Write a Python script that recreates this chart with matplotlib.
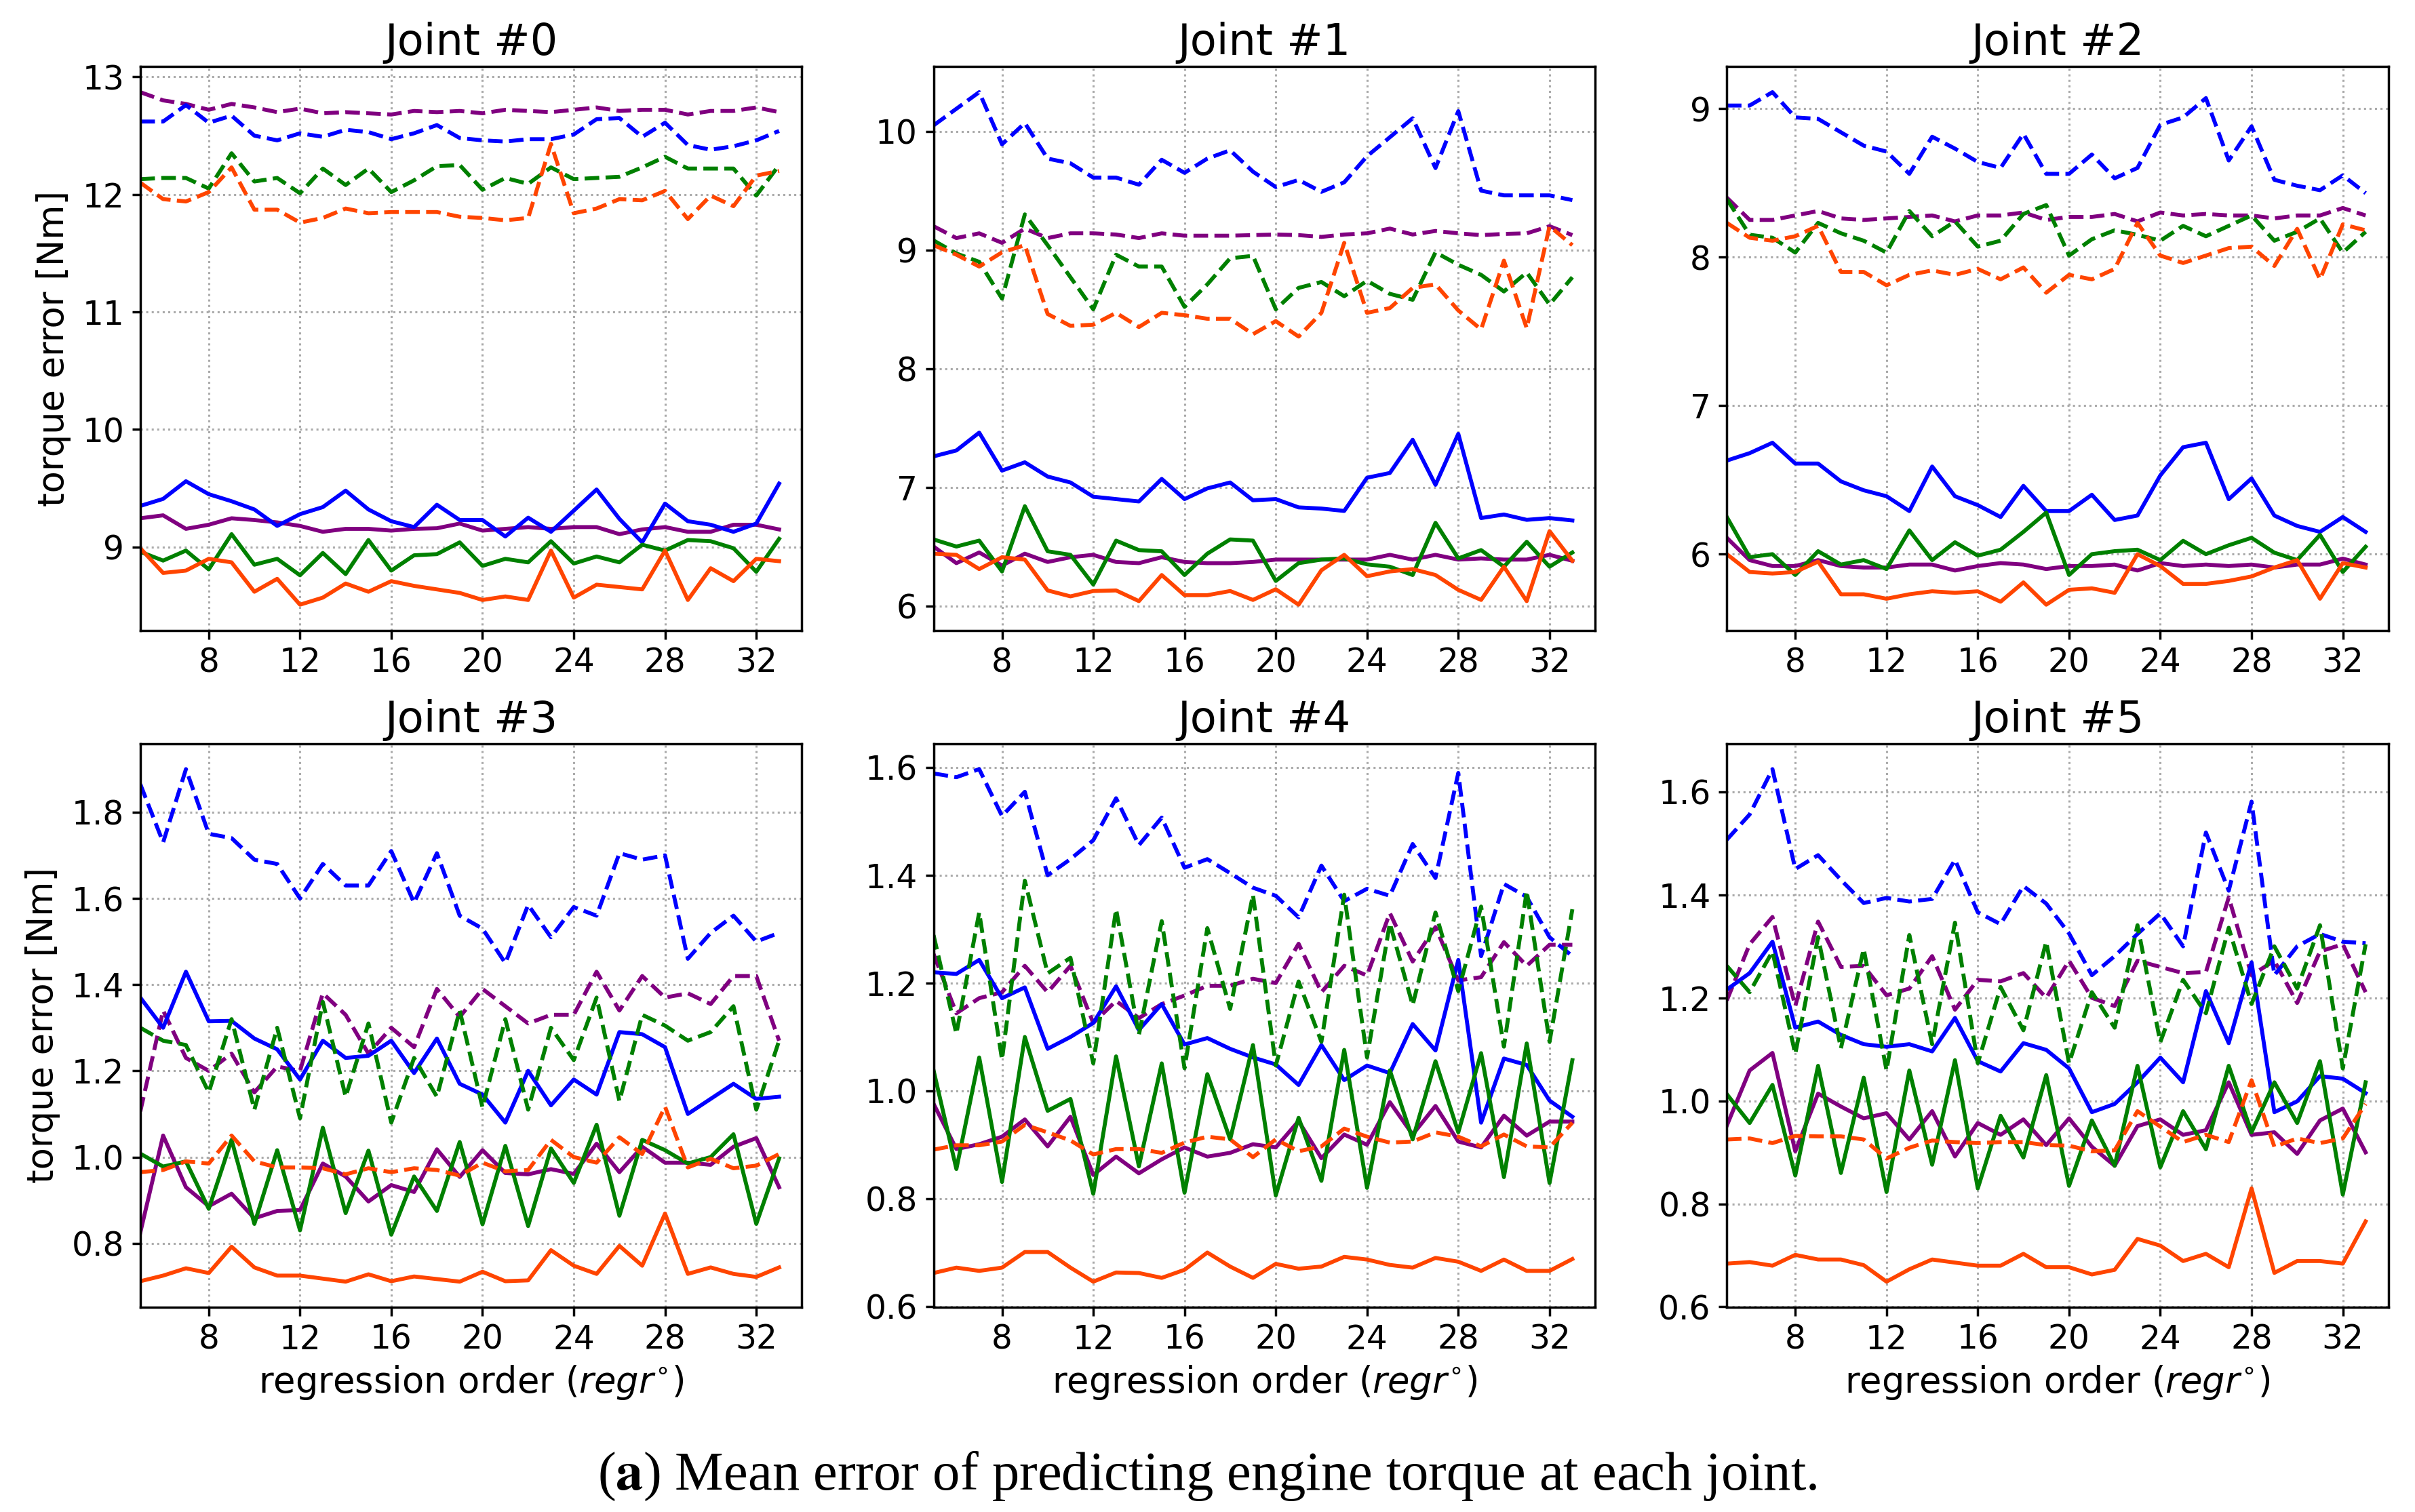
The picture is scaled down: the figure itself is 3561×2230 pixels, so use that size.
import matplotlib
matplotlib.use("Agg")
import matplotlib.pyplot as plt
from matplotlib.ticker import MultipleLocator
import numpy as np

# regression orders 5..33
orders = list(range(5, 34))

# joint 0
j0_blue_dash = [12.62, 12.62, 12.76, 12.61, 12.67, 12.50, 12.46, 12.52, 12.49, 12.55, 12.53, 12.47, 12.52, 12.59, 12.48,
                12.46, 12.45, 12.47, 12.47, 12.51, 12.64, 12.65, 12.49, 12.61, 12.42, 12.38, 12.41, 12.46, 12.54]
j0_purple_dash = [12.87, 12.80, 12.77, 12.72, 12.77, 12.74, 12.70, 12.73, 12.69, 12.70, 12.69, 12.68, 12.71, 12.70, 12.71,
                  12.69, 12.72, 12.71, 12.70, 12.72, 12.74, 12.71, 12.72, 12.72, 12.68, 12.71, 12.71, 12.74, 12.70]
j0_green_dash = [12.13, 12.14, 12.14, 12.05, 12.35, 12.11, 12.14, 12.01, 12.22, 12.08, 12.22, 12.02, 12.12, 12.24, 12.25,
                 12.04, 12.14, 12.09, 12.23, 12.13, 12.14, 12.15, 12.23, 12.32, 12.22, 12.22, 12.22, 11.99, 12.25]
j0_orange_dash = [12.10, 11.96, 11.94, 12.02, 12.23, 11.87, 11.87, 11.76, 11.80, 11.88, 11.84, 11.85, 11.85, 11.85, 11.81,
                  11.80, 11.78, 11.80, 12.43, 11.84, 11.88, 11.96, 11.95, 12.03, 11.79, 11.99, 11.90, 12.16, 12.20]
j0_blue = [9.35, 9.41, 9.56, 9.45, 9.39, 9.32, 9.18, 9.28, 9.34, 9.48, 9.32, 9.22, 9.17, 9.36, 9.23,
           9.23, 9.09, 9.25, 9.13, 9.31, 9.49, 9.24, 9.04, 9.37, 9.22, 9.19, 9.13, 9.20, 9.54]
j0_purple = [9.245, 9.27, 9.155, 9.19, 9.245, 9.23, 9.21, 9.18, 9.13, 9.155, 9.155, 9.14, 9.155, 9.16, 9.20,
             9.14, 9.155, 9.17, 9.155, 9.17, 9.17, 9.11, 9.15, 9.17, 9.13, 9.13, 9.19, 9.19, 9.15]
j0_green = [8.96, 8.885, 8.97, 8.81, 9.11, 8.85, 8.90, 8.76, 8.95, 8.77, 9.06, 8.80, 8.93, 8.94, 9.04,
            8.84, 8.90, 8.87, 9.05, 8.86, 8.92, 8.87, 9.02, 8.97, 9.06, 9.05, 8.99, 8.79, 9.07]
j0_orange = [8.99, 8.78, 8.80, 8.90, 8.87, 8.62, 8.73, 8.51, 8.57, 8.69, 8.62, 8.71, 8.67, 8.64, 8.61,
             8.55, 8.58, 8.55, 8.97, 8.57, 8.68, 8.66, 8.64, 8.97, 8.55, 8.82, 8.71, 8.90, 8.88]

# joint 1
j1_blue_dash = [10.05, 10.19, 10.33, 9.89, 10.07, 9.77, 9.73, 9.61, 9.61, 9.55, 9.76, 9.65, 9.77, 9.84, 9.66,
                9.53, 9.59, 9.49, 9.57, 9.79, 9.95, 10.11, 9.69, 10.17, 9.50, 9.46, 9.46, 9.46, 9.42]
j1_purple_dash = [9.20, 9.10, 9.14, 9.06, 9.18, 9.10, 9.14, 9.14, 9.13, 9.10, 9.14, 9.12, 9.12, 9.12, 9.125,
                  9.13, 9.125, 9.11, 9.13, 9.14, 9.18, 9.13, 9.16, 9.14, 9.125, 9.135, 9.14, 9.20, 9.125]
j1_green_dash = [9.08, 8.97, 8.90, 8.59, 9.30, 9.04, 8.77, 8.50, 8.96, 8.86, 8.86, 8.52, 8.71, 8.93, 8.95,
                 8.50, 8.68, 8.73, 8.61, 8.74, 8.63, 8.58, 8.98, 8.875, 8.79, 8.65, 8.81, 8.54, 8.77]
j1_orange_dash = [9.04, 8.96, 8.86, 8.98, 9.04, 8.46, 8.36, 8.37, 8.47, 8.35, 8.47, 8.45, 8.42, 8.42, 8.29,
                  8.40, 8.27, 8.47, 9.06, 8.47, 8.51, 8.68, 8.71, 8.49, 8.33, 8.91, 8.34, 9.20, 9.04]
j1_blue = [7.26, 7.31, 7.46, 7.14, 7.21, 7.09, 7.04, 6.92, 6.90, 6.88, 7.07, 6.90, 6.99, 7.04, 6.89,
           6.90, 6.83, 6.82, 6.80, 7.08, 7.12, 7.40, 7.02, 7.45, 6.74, 6.77, 6.725, 6.74, 6.72]
j1_purple = [6.50, 6.36, 6.45, 6.34, 6.44, 6.37, 6.41, 6.43, 6.37, 6.36, 6.41, 6.37, 6.36, 6.36, 6.37,
             6.39, 6.39, 6.39, 6.39, 6.39, 6.43, 6.39, 6.43, 6.39, 6.40, 6.39, 6.39, 6.43, 6.38]
j1_green = [6.56, 6.50, 6.55, 6.29, 6.84, 6.46, 6.43, 6.18, 6.55, 6.47, 6.46, 6.26, 6.44, 6.56, 6.55,
            6.21, 6.36, 6.39, 6.40, 6.35, 6.33, 6.26, 6.70, 6.40, 6.47, 6.33, 6.54, 6.33, 6.45]
j1_orange = [6.44, 6.43, 6.31, 6.41, 6.39, 6.13, 6.08, 6.125, 6.13, 6.04, 6.26, 6.09, 6.09, 6.125, 6.05,
             6.14, 6.01, 6.30, 6.43, 6.25, 6.29, 6.31, 6.26, 6.135, 6.05, 6.33, 6.04, 6.63, 6.38]

# joint 2
j2_blue_dash = [9.02, 9.02, 9.11, 8.94, 8.93, 8.84, 8.75, 8.71, 8.56, 8.81, 8.73, 8.64, 8.60, 8.83, 8.56,
                8.56, 8.69, 8.53, 8.60, 8.89, 8.94, 9.07, 8.65, 8.88, 8.52, 8.48, 8.45, 8.55, 8.43]
j2_purple_dash = [8.40, 8.25, 8.25, 8.28, 8.31, 8.26, 8.25, 8.26, 8.27, 8.28, 8.24, 8.28, 8.28, 8.30, 8.25,
                  8.27, 8.27, 8.29, 8.24, 8.30, 8.28, 8.29, 8.28, 8.28, 8.26, 8.28, 8.28, 8.33, 8.28]
j2_green_dash = [8.39, 8.15, 8.13, 8.03, 8.23, 8.16, 8.11, 8.03, 8.31, 8.14, 8.24, 8.07, 8.11, 8.29, 8.35,
                 8.01, 8.12, 8.18, 8.15, 8.11, 8.21, 8.14, 8.21, 8.28, 8.11, 8.17, 8.26, 8.03, 8.17]
j2_orange_dash = [8.23, 8.13, 8.11, 8.14, 8.21, 7.90, 7.90, 7.81, 7.88, 7.91, 7.88, 7.92, 7.85, 7.93, 7.76,
                  7.88, 7.85, 7.92, 8.23, 8.01, 7.96, 8.01, 8.06, 8.07, 7.94, 8.19, 7.85, 8.22, 8.18]
j2_blue = [6.63, 6.68, 6.75, 6.61, 6.61, 6.49, 6.43, 6.39, 6.29, 6.59, 6.39, 6.33, 6.25, 6.46, 6.29,
           6.29, 6.40, 6.23, 6.26, 6.53, 6.72, 6.75, 6.37, 6.51, 6.26, 6.19, 6.15, 6.25, 6.15]
j2_purple = [6.11, 5.96, 5.92, 5.92, 5.96, 5.92, 5.91, 5.91, 5.93, 5.93, 5.89, 5.92, 5.94, 5.93, 5.90,
             5.92, 5.92, 5.93, 5.89, 5.94, 5.92, 5.93, 5.92, 5.93, 5.91, 5.93, 5.93, 5.97, 5.93]
j2_green = [6.25, 5.98, 6.00, 5.86, 6.02, 5.93, 5.96, 5.90, 6.16, 5.96, 6.08, 5.99, 6.03, 6.15, 6.28,
            5.86, 6.00, 6.02, 6.03, 5.96, 6.09, 6.00, 6.06, 6.11, 6.01, 5.96, 6.13, 5.88, 6.05]
j2_orange = [6.00, 5.88, 5.87, 5.88, 5.95, 5.73, 5.73, 5.70, 5.73, 5.75, 5.74, 5.75, 5.68, 5.81, 5.66,
             5.76, 5.77, 5.74, 6.00, 5.92, 5.80, 5.80, 5.82, 5.85, 5.91, 5.96, 5.70, 5.94, 5.91]

# joint 3
j3_blue_dash = [1.865, 1.73, 1.90, 1.75, 1.74, 1.69, 1.68, 1.60, 1.68, 1.63, 1.63, 1.71, 1.59, 1.705, 1.56,
                1.53, 1.45, 1.585, 1.51, 1.58, 1.56, 1.705, 1.69, 1.70, 1.46, 1.52, 1.56, 1.50, 1.52]
j3_purple_dash = [1.106, 1.34, 1.23, 1.20, 1.24, 1.15, 1.21, 1.20, 1.38, 1.33, 1.24, 1.30, 1.255, 1.39, 1.325,
                  1.39, 1.35, 1.31, 1.33, 1.33, 1.43, 1.34, 1.42, 1.37, 1.38, 1.355, 1.42, 1.42, 1.27]
j3_green_dash = [1.30, 1.27, 1.26, 1.15, 1.32, 1.11, 1.30, 1.09, 1.36, 1.14, 1.31, 1.08, 1.23, 1.14, 1.34,
                 1.115, 1.32, 1.11, 1.30, 1.225, 1.37, 1.13, 1.33, 1.305, 1.27, 1.29, 1.35, 1.11, 1.27]
j3_orange_dash = [0.965, 0.97, 0.99, 0.985, 1.05, 0.99, 0.976, 0.976, 0.974, 0.96, 0.974, 0.965, 0.974, 0.97, 0.957,
                  0.987, 0.967, 0.97, 1.04, 1.00, 0.987, 1.046, 1.007, 1.117, 0.976, 0.996, 0.974, 0.98, 1.007]
j3_blue = [1.37, 1.30, 1.43, 1.315, 1.316, 1.275, 1.25, 1.18, 1.27, 1.23, 1.235, 1.27, 1.195, 1.275, 1.17,
           1.145, 1.08, 1.20, 1.12, 1.18, 1.145, 1.29, 1.285, 1.255, 1.10, 1.135, 1.17, 1.135, 1.14]
j3_purple = [0.825, 1.05, 0.93, 0.886, 0.915, 0.858, 0.875, 0.877, 0.985, 0.955, 0.897, 0.935, 0.919, 1.018, 0.954,
             1.016, 0.963, 0.96, 0.972, 0.961, 1.031, 0.965, 1.024, 0.987, 0.987, 0.982, 1.024, 1.044, 0.93]
j3_green = [1.008, 0.978, 0.99, 0.88, 1.04, 0.845, 1.016, 0.83, 1.068, 0.87, 1.015, 0.82, 0.955, 0.875, 1.035,
            0.844, 1.026, 0.84, 1.02, 0.94, 1.075, 0.864, 1.04, 1.016, 0.985, 1.00, 1.053, 0.845, 0.997]
j3_orange = [0.712, 0.725, 0.742, 0.731, 0.792, 0.744, 0.725, 0.725, 0.718, 0.711, 0.728, 0.712, 0.723, 0.717, 0.711,
             0.734, 0.712, 0.714, 0.784, 0.748, 0.729, 0.794, 0.748, 0.869, 0.729, 0.744, 0.729, 0.722, 0.744]

# joint 4
j4_blue_dash = [1.589, 1.582, 1.597, 1.51, 1.555, 1.40, 1.43, 1.465, 1.543, 1.456, 1.507, 1.414, 1.43, 1.404, 1.377,
                1.362, 1.322, 1.418, 1.352, 1.375, 1.362, 1.458, 1.395, 1.59, 1.25, 1.384, 1.36, 1.285, 1.25]
j4_purple_dash = [1.254, 1.144, 1.172, 1.183, 1.232, 1.183, 1.232, 1.126, 1.167, 1.135, 1.161, 1.177, 1.195, 1.195, 1.208,
                  1.20, 1.273, 1.183, 1.232, 1.214, 1.33, 1.24, 1.304, 1.205, 1.211, 1.276, 1.232, 1.271, 1.271]
j4_green_dash = [1.289, 1.106, 1.331, 1.058, 1.39, 1.218, 1.247, 1.051, 1.337, 1.104, 1.315, 1.042, 1.302, 1.152, 1.364,
                 1.047, 1.203, 1.091, 1.364, 1.062, 1.311, 1.159, 1.331, 1.185, 1.342, 1.082, 1.371, 1.091, 1.337]
j4_orange_dash = [0.891, 0.899, 0.899, 0.906, 0.937, 0.923, 0.908, 0.882, 0.892, 0.892, 0.885, 0.904, 0.915, 0.91, 0.877,
                  0.91, 0.888, 0.897, 0.93, 0.915, 0.904, 0.906, 0.923, 0.915, 0.897, 0.919, 0.897, 0.895, 0.941]
j4_blue = [1.22, 1.217, 1.243, 1.172, 1.192, 1.078, 1.10, 1.126, 1.194, 1.113, 1.161, 1.086, 1.098, 1.078, 1.062,
           1.049, 1.011, 1.085, 1.02, 1.047, 1.033, 1.124, 1.075, 1.243, 0.941, 1.06, 1.048, 0.982, 0.952]
j4_purple = [0.976, 0.892, 0.901, 0.915, 0.947, 0.897, 0.952, 0.844, 0.878, 0.847, 0.873, 0.895, 0.878, 0.885, 0.901,
             0.895, 0.944, 0.875, 0.919, 0.90, 0.979, 0.919, 0.972, 0.906, 0.895, 0.954, 0.917, 0.943, 0.943]
j4_green = [1.038, 0.855, 1.062, 0.831, 1.10, 0.963, 0.985, 0.809, 1.064, 0.86, 1.051, 0.811, 1.031, 0.91, 1.085,
            0.806, 0.95, 0.833, 1.076, 0.82, 1.038, 0.91, 1.055, 0.923, 1.07, 0.84, 1.088, 0.829, 1.057]
j4_orange = [0.662, 0.672, 0.666, 0.672, 0.701, 0.701, 0.672, 0.646, 0.663, 0.662, 0.653, 0.668, 0.70, 0.674, 0.653,
             0.679, 0.670, 0.674, 0.692, 0.687, 0.677, 0.672, 0.69, 0.683, 0.666, 0.687, 0.666, 0.666, 0.688]

# joint 5
j5_blue_dash = [1.507, 1.556, 1.644, 1.45, 1.477, 1.429, 1.384, 1.394, 1.387, 1.392, 1.468, 1.366, 1.343, 1.417, 1.383,
                1.325, 1.244, 1.281, 1.324, 1.364, 1.30, 1.521, 1.408, 1.581, 1.244, 1.30, 1.324, 1.309, 1.306]
j5_purple_dash = [1.195, 1.304, 1.357, 1.184, 1.348, 1.26, 1.262, 1.205, 1.218, 1.281, 1.177, 1.235, 1.232, 1.248, 1.20,
                  1.272, 1.20, 1.184, 1.272, 1.26, 1.248, 1.25, 1.395, 1.244, 1.272, 1.19, 1.29, 1.304, 1.211]
j5_green_dash = [1.262, 1.211, 1.29, 1.091, 1.318, 1.102, 1.295, 1.059, 1.322, 1.11, 1.346, 1.073, 1.221, 1.137, 1.309,
                 1.073, 1.211, 1.142, 1.341, 1.114, 1.235, 1.17, 1.336, 1.188, 1.30, 1.218, 1.341, 1.063, 1.304]
j5_orange_dash = [0.925, 0.927, 0.918, 0.932, 0.931, 0.931, 0.925, 0.888, 0.909, 0.923, 0.92, 0.918, 0.92, 0.92, 0.914,
                  0.913, 0.902, 0.904, 0.98, 0.95, 0.92, 0.934, 0.92, 1.04, 0.911, 0.927, 0.918, 0.927, 0.994]
j5_blue = [1.216, 1.248, 1.309, 1.142, 1.154, 1.128, 1.11, 1.105, 1.11, 1.096, 1.161, 1.077, 1.057, 1.112, 1.099,
           1.063, 0.978, 0.994, 1.036, 1.084, 1.036, 1.213, 1.112, 1.269, 0.978, 0.999, 1.048, 1.043, 1.015]
j5_purple = [0.952, 1.059, 1.093, 0.902, 1.014, 0.989, 0.966, 0.976, 0.925, 0.98, 0.892, 0.957, 0.934, 0.964, 0.914,
             0.966, 0.911, 0.874, 0.951, 0.964, 0.934, 0.943, 1.036, 0.934, 0.939, 0.897, 0.962, 0.985, 0.90]
j5_green = [1.013, 0.957, 1.031, 0.855, 1.068, 0.86, 1.045, 0.823, 1.059, 0.876, 1.079, 0.83, 0.971, 0.89, 1.05,
            0.835, 0.962, 0.874, 1.068, 0.871, 0.98, 0.906, 1.068, 0.939, 1.036, 0.957, 1.077, 0.818, 1.036]
j5_orange = [0.684, 0.687, 0.68, 0.701, 0.692, 0.692, 0.681, 0.649, 0.673, 0.692, 0.686, 0.68, 0.68, 0.703, 0.677,
             0.677, 0.663, 0.672, 0.732, 0.719, 0.689, 0.703, 0.677, 0.83, 0.666, 0.689, 0.689, 0.684, 0.766]

# draw order per joint: purple, blue, green, orangered (dashed then solid)
joints = [
    [j0_purple_dash, j0_purple, j0_blue_dash, j0_blue, j0_green_dash, j0_green, j0_orange_dash, j0_orange],
    [j1_purple_dash, j1_purple, j1_blue_dash, j1_blue, j1_green_dash, j1_green, j1_orange_dash, j1_orange],
    [j2_purple_dash, j2_purple, j2_blue_dash, j2_blue, j2_green_dash, j2_green, j2_orange_dash, j2_orange],
    [j3_purple_dash, j3_purple, j3_blue_dash, j3_blue, j3_green_dash, j3_green, j3_orange_dash, j3_orange],
    [j4_purple_dash, j4_purple, j4_blue_dash, j4_blue, j4_green_dash, j4_green, j4_orange_dash, j4_orange],
    [j5_purple_dash, j5_purple, j5_blue_dash, j5_blue, j5_green_dash, j5_green, j5_orange_dash, j5_orange],
]
colors = ['purple', 'purple', 'blue', 'blue', 'green', 'green', 'orangered', 'orangered']
styles = ['--', '-'] * 4
ytick_step = [1, 1, 1, 0.2, 0.2, 0.2]

fig, axes = plt.subplots(2, 3, figsize=(35.61, 22.30), dpi=100)
fig.subplots_adjust(left=0.0581, right=0.989, top=0.956, bottom=0.1354, wspace=0.199, hspace=0.2008)

for i, ax in enumerate(axes.flat):
    for vals, c, ls in zip(joints[i], colors, styles):
        ax.plot(orders, vals, color=c, linestyle=ls, linewidth=4.2)
    ax.set_xlim(5, 34)
    ax.xaxis.set_major_locator(MultipleLocator(4))
    ax.yaxis.set_major_locator(MultipleLocator(ytick_step[i]))
    ax.grid(True, linestyle=':', color='#aaaaaa', linewidth=2.2)
    ax.set_title('Joint #%d' % i, fontsize=46, pad=12)
    ax.tick_params(labelsize=35, length=9, width=2.5, pad=8)
    for sp in ax.spines.values():
        sp.set_linewidth(2.5)
    if i % 3 == 0:
        ax.set_ylabel('torque error [Nm]', fontsize=38, labelpad=12)
    if i >= 3:
        ax.set_xlabel(r'regression order ($regr^{\circ}$)', fontsize=38, labelpad=8)

fig.text(0.5, 0.0238, r'($\mathbf{a}$) Mean error of predicting engine torque at each joint.',
         ha='center', va='center', fontsize=58, family='Liberation Serif', math_fontfamily='stix')

fig.savefig('out.png', dpi=100)
